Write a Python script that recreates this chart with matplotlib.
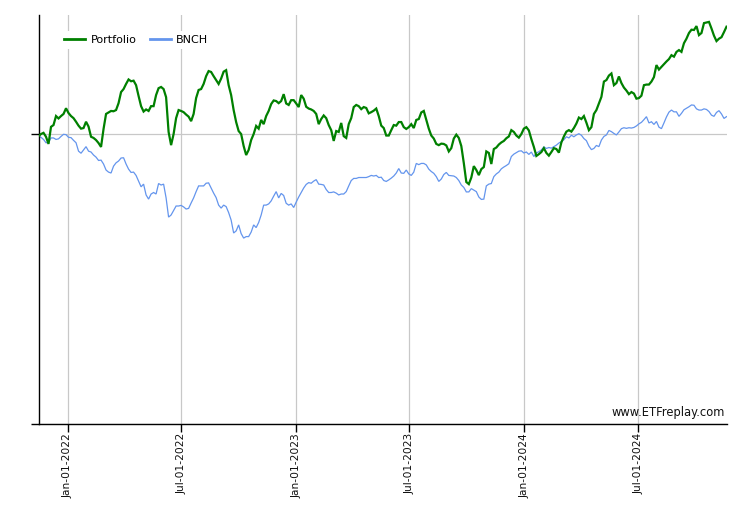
import matplotlib
matplotlib.use("Agg")
import matplotlib.pyplot as plt
import matplotlib.dates as mdates
import pandas as pd

# ---- data (cumulative return, %), sampled every 4 days ----
start_date = "2021-11-15"
step = "4D"

portfolio = [
    -0.7, 0.0, 0.4, -0.9, -3.3, 2.4, 3.0, 6.0, 5.2, 6.0,
    6.7, 8.6, 7.0, 6.0, 5.3, 4.1, 2.8, 1.8, 2.0, 4.1,
    2.5, -0.9, -1.3, -2.0, -3.0, -4.3, 1.7, 6.7, 7.2, 7.7,
    7.6, 8.0, 10.3, 14.0, 15.0, 16.7, 18.2, 17.6, 17.8, 16.3,
    12.7, 9.3, 7.5, 8.2, 7.7, 9.3, 9.3, 13.0, 15.3, 15.7,
    15.0, 12.3, 0.7, -3.7, 0.0, 5.3, 8.0, 7.7, 7.3, 6.5,
    5.8, 4.3, 6.7, 12.0, 14.7, 15.0, 16.7, 19.3, 21.0, 20.7,
    19.3, 18.0, 16.7, 18.5, 20.8, 21.3, 16.3, 13.0, 8.0, 4.0,
    1.0, 0.0, -4.0, -7.0, -5.3, -2.0, 0.0, 2.7, 1.8, 4.7,
    3.3, 6.0, 7.7, 10.0, 11.2, 11.0, 10.3, 11.0, 13.3, 10.2,
    9.7, 11.3, 11.3, 10.2, 9.0, 13.0, 11.8, 9.1, 8.5, 8.2,
    7.7, 6.7, 3.3, 5.0, 6.2, 5.3, 3.0, 1.3, -2.3, 1.0,
    0.7, 3.7, -0.7, -1.3, 3.3, 5.3, 9.0, 9.7, 9.3, 8.3,
    9.0, 8.7, 6.9, 7.3, 7.8, 8.5, 6.0, 2.8, 2.0, -0.5,
    -0.5, 1.3, 3.0, 2.8, 4.0, 4.0, 2.3, 1.7, 2.3, 3.3,
    2.0, 4.7, 5.0, 7.2, 7.7, 4.7, 1.8, -0.5, -1.5, -3.3,
    -3.7, -3.2, -3.3, -3.8, -5.8, -4.7, -1.5, -0.2, -1.3, -4.0,
    -9.7, -16.0, -16.7, -14.5, -10.7, -12.0, -13.7, -11.7, -11.0, -5.8,
    -6.3, -10.0, -5.0, -4.5, -3.5, -2.8, -2.3, -1.4, -0.8, 1.3,
    0.7, -0.5, -1.2, 0.0, 1.8, 2.3, 1.2, -1.7, -4.3, -7.3,
    -6.7, -6.0, -4.7, -6.3, -7.2, -6.0, -4.7, -5.0, -6.2, -2.8,
    -0.8, 0.8, 1.3, 0.8, 2.0, 3.5, 5.5, 5.0, 6.0, 3.8,
    1.3, 2.3, 6.7, 8.0, 10.2, 12.4, 17.5, 18.0, 19.5, 20.2,
    16.3, 17.0, 19.2, 17.0, 15.5, 14.5, 13.3, 14.0, 13.5, 11.8,
    12.0, 12.8, 16.3, 16.5, 16.5, 17.5, 19.0, 23.0, 21.5, 22.4,
    23.3, 24.2, 25.0, 26.3, 25.8, 27.4, 28.0, 27.4, 30.3, 31.8,
    33.7, 34.8, 34.7, 36.0, 33.0, 33.7, 37.0, 37.2, 37.4, 35.2,
    32.8, 31.0, 31.8, 32.3, 34.0, 35.8,
]

bnch = [
    -0.7, -1.1, -1.8, -2.9, -2.8, -1.3, -1.3, -1.8, -1.6, -0.8,
    -0.1, -0.2, -1.1, -1.2, -2.1, -2.9, -5.7, -6.4, -5.3, -4.2,
    -5.7, -6.0, -7.0, -7.7, -8.8, -8.7, -10.0, -12.0, -12.7, -13.0,
    -10.7, -9.6, -9.0, -8.0, -7.9, -10.0, -11.7, -12.8, -12.7, -13.8,
    -15.7, -17.6, -16.7, -20.3, -21.7, -20.0, -19.5, -20.0, -16.5, -17.0,
    -16.7, -21.3, -27.7, -27.0, -25.5, -24.0, -24.0, -23.8, -24.3, -25.0,
    -24.8, -23.0, -21.3, -19.2, -17.3, -17.3, -17.3, -16.4, -16.3, -18.0,
    -19.7, -21.2, -23.7, -24.7, -23.7, -24.2, -26.2, -28.7, -33.0, -32.3,
    -30.3, -33.2, -34.7, -34.2, -34.2, -32.7, -30.3, -31.2, -29.5, -27.0,
    -23.7, -23.7, -23.3, -22.3, -20.7, -19.2, -21.3, -19.8, -20.5, -23.1,
    -23.7, -23.3, -24.5, -22.7, -21.0, -19.5, -18.0, -16.8, -16.2, -16.4,
    -15.7, -15.2, -16.7, -16.8, -17.0, -18.5, -19.5, -19.5, -19.3, -19.7,
    -20.3, -20.0, -20.0, -19.2, -17.3, -15.5, -14.8, -14.8, -14.5, -14.5,
    -14.5, -14.5, -14.2, -13.8, -14.0, -13.8, -14.5, -14.4, -15.5, -15.8,
    -15.3, -14.7, -14.0, -13.0, -11.5, -13.0, -13.1, -12.0, -13.3, -13.8,
    -12.7, -9.8, -10.2, -9.8, -9.8, -10.3, -11.7, -12.5, -13.1, -14.2,
    -15.8, -15.0, -13.5, -12.8, -13.8, -13.9, -14.0, -14.5, -15.5, -17.0,
    -17.8, -19.3, -19.3, -18.2, -18.7, -19.2, -21.0, -21.8, -21.7, -17.3,
    -16.7, -16.5, -14.2, -13.3, -12.7, -11.6, -11.0, -10.5, -9.9, -7.5,
    -6.7, -6.2, -5.7, -5.6, -6.3, -6.0, -6.8, -6.0, -7.5, -6.3,
    -5.9, -5.3, -4.3, -4.8, -4.5, -4.7, -4.2, -3.7, -3.0, -2.5,
    -1.9, -0.9, -1.3, -0.4, -0.9, -0.3, 0.1, -0.4, -1.5, -2.2,
    -4.0, -5.2, -4.8, -3.8, -4.2, -2.0, -0.8, -0.3, 1.2, 0.8,
    0.2, -0.3, 0.7, 1.8, 2.1, 1.9, 2.1, 2.0, 2.2, 2.7,
    3.4, 3.9, 4.8, 5.8, 3.7, 4.1, 3.2, 4.2, 2.3, 1.8,
    3.7, 5.7, 7.3, 8.0, 7.4, 7.4, 5.9, 6.9, 8.1, 8.6,
    9.1, 9.7, 9.6, 8.4, 8.0, 8.0, 8.4, 8.2, 7.5, 6.3,
    5.9, 7.2, 7.8, 6.7, 5.2, 5.8,
]

series_names = ["Portfolio", "BNCH"]
y_range = (-96.7, 39.7)
watermark = "www.ETFreplay.com"

dates = pd.date_range(start_date, periods=len(portfolio), freq=step)

fig = plt.figure(figsize=(7.5, 5.3), dpi=100, facecolor="white")
ax = fig.add_axes([38.5 / 750, 1 - 424 / 530, (726.5 - 38.5) / 750, (424 - 15) / 530])

ax.plot(dates, portfolio, color="#008000", lw=1.6, label=series_names[0], zorder=3,
        solid_joinstyle="miter")
ax.plot(dates, bnch, color="#6495ED", lw=0.9, label=series_names[1], zorder=2,
        solid_joinstyle="miter")

ax.set_xlim(dates[0], dates[-1])
ax.set_ylim(*y_range)
ax.set_yticks([y_range[0], 0])
ax.set_yticklabels([])

ax.xaxis.set_major_locator(mdates.MonthLocator(bymonth=[1, 7], bymonthday=1))
ax.xaxis.set_major_formatter(mdates.DateFormatter("%b-%d-%Y"))
for lbl in ax.get_xticklabels():
    lbl.set_rotation(90)
    lbl.set_fontsize(7.7)
    lbl.set_color("#111111")

ax.grid(True, color="#c8c8c8", lw=0.9, zorder=0)
ax.set_axisbelow(True)

for s in ["top", "right"]:
    ax.spines[s].set_visible(False)
for s in ["left", "bottom"]:
    ax.spines[s].set_color("black")
    ax.spines[s].set_linewidth(1.0)
ax.tick_params(axis="both", direction="out", length=5.8, width=1.0, color="black", pad=0.5)

leg = ax.legend(loc="upper left", bbox_to_anchor=(0.031, 0.962), ncol=2,
                frameon=True, fontsize=8, handlelength=1.9, handletextpad=0.45,
                columnspacing=1.2, borderaxespad=0, borderpad=0.4)
leg.get_frame().set_facecolor("white")
leg.get_frame().set_edgecolor("none")
leg.get_frame().set_alpha(1.0)
for h in leg.get_lines():
    h.set_linewidth(2.0)

ax.text(0.997, 0.012, watermark, transform=ax.transAxes, ha="right", va="bottom",
        fontsize=8.3, color="#111111")

fig.savefig("out.png", dpi=100, facecolor="white")
